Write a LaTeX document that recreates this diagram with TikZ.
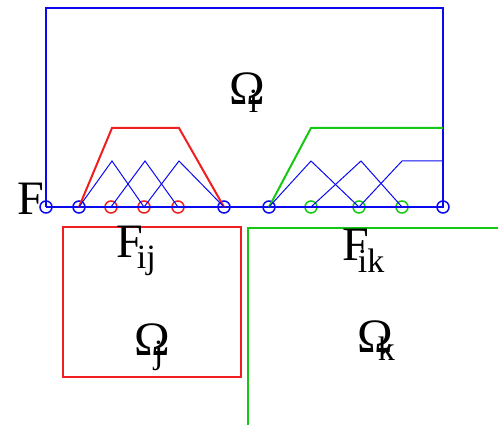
\documentclass[tikz,border=0pt]{standalone}
\usepackage{fontspec}
\setmainfont{Liberation Serif}
\newcommand{\sublab}[4]{#1\kern#3pt\raisebox{#4pt}{\fontsize{34}{34}\selectfont #2}}
\definecolor{myred}{RGB}{240,30,30}
\definecolor{mygreen}{RGB}{20,200,20}
\definecolor{myblue}{RGB}{10,10,240}
\begin{document}
\begin{tikzpicture}[x=1pt,y=-1pt,
  thickline/.style={line width=2pt},
  hat/.style={myblue, line width=1pt},
  knot/.style={circle, draw, line width=1.5pt, minimum size=12pt, inner sep=0pt},
  big/.style={font=\fontsize{48}{48}\selectfont, inner sep=0pt, anchor=base west}]
\useasboundingbox (0,0) rectangle (498,425);
% knots
\node[knot, myblue] (b0) at (46,207) {};
\node[knot, myblue] (b1) at (79,207) {};
\node[knot, myred] (r1) at (111,207) {};
\node[knot, myred] (r2) at (144,207) {};
\node[knot, myred] (r3) at (178,207) {};
\node[knot, myblue] (b2) at (224,207) {};
\node[knot, myblue] (b3) at (269,207) {};
\node[knot, mygreen] (g1) at (311,207) {};
\node[knot, mygreen] (g2) at (359,207) {};
\node[knot, mygreen] (g3) at (402,207) {};
\node[knot, myblue] (b4) at (443,207) {};
% corners
\coordinate (tl) at (46,8);
\coordinate (tr) at (443,8);
\coordinate (rt1) at (112,128);
\coordinate (rt2) at (179,128);
\coordinate (gt1) at (311,128);
\coordinate (gt2) at (443,128);
\coordinate (p1) at (112,161);
\coordinate (p2) at (145,161);
\coordinate (p3) at (179,161);
\coordinate (q1) at (311,161);
\coordinate (q2) at (361,161);
\coordinate (q3) at (402,161);
\coordinate (q4) at (443,161);
% frame
\draw[myblue, thickline] (b0.center) -- (tl) -- (tr) -- (b4.center) -- (b0.center);
% red trapezoid
\draw[myred, thickline] (b1.center) -- (rt1) -- (rt2) -- (b2.center);
% green
\draw[mygreen, thickline] (b3.center) -- (gt1) -- (gt2);
% hats
\draw[hat] (b1.center) -- (p1) -- (r2.center);
\draw[hat] (r1.center) -- (p2) -- (r3.center);
\draw[hat] (r2.center) -- (p3) -- (b2.center);
\draw[hat] (b3.center) -- (q1) -- (g2.center);
\draw[hat] (g1.center) -- (q2) -- (g3.center);
\draw[hat] (g2.center) -- (q3) -- (q4);
% subdomains
\draw[myred, thickline] (63,227) rectangle (241,377);
\coordinate (gl1) at (498,228);
\coordinate (gl2) at (248,228);
\coordinate (gl3) at (248,425);
\draw[mygreen, thickline] (gl1) -- (gl2) -- (gl3);
% labels
\node[big] (F) at (17,214) {F};
\node[big] (Fij) at (116,257) {\sublab{F}{ij}{-6}{-11}};
\node[big] (Fik) at (342,260) {\sublab{F}{ik}{-11}{-12}};
\node[big] (Oi) at (229,105) {\sublab{Ω}{i}{-16}{-8}};
\node[big] (Oj) at (134,355) {\sublab{Ω}{j}{-16}{-8}};
\node[big] (Ok) at (357,352) {\sublab{Ω}{k}{-15}{-8}};
\end{tikzpicture}
\end{document}
